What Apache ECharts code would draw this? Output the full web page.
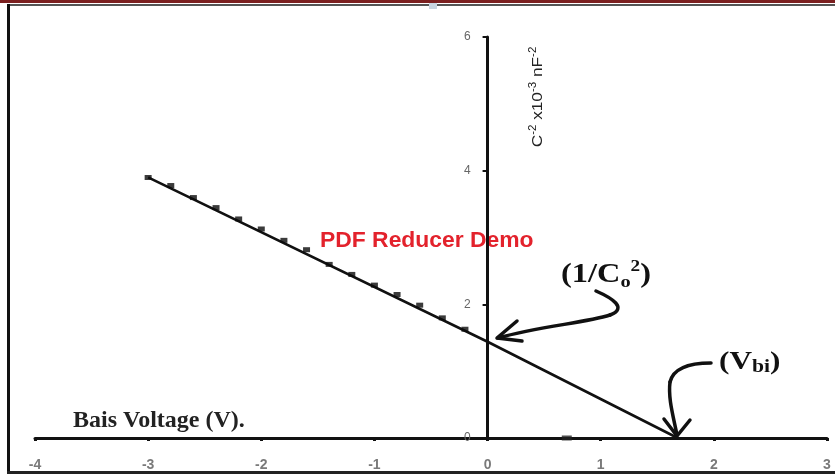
<!DOCTYPE html>
<html>
<head>
<meta charset="utf-8">
<script src="https://cdn.jsdelivr.net/npm/echarts@6/dist/echarts.min.js"></script>
<style>
  html, body { margin: 0; padding: 0; background: #fff; }
  #chart { width: 835px; height: 474px; }
</style>
</head>
<body>
<div id="chart"></div>
<script>
// measured points (bias voltage V, C^-2 x10^-3 nF^-2)
var biasV = [-3.0, -2.8, -2.6, -2.4, -2.2, -2.0, -1.8, -1.6, -1.4, -1.2, -1.0, -0.8, -0.6, -0.4, -0.2];
var invC2 = [3.89, 3.77, 3.59, 3.44, 3.27, 3.12, 2.95, 2.81, 2.59, 2.44, 2.28, 2.14, 1.98, 1.79, 1.62];
// extrapolated fit line
var fitV = [-3.0, 0, 1.68];
var fitC = [3.9, 1.44, 0];
// stray mark on the x axis
var strayV = [0.7];
var strayC = [0];
var xTicks = [-4, -3, -2, -1, 0, 1, 2, 3];
var yTicks = [0, 2, 4, 6];

var chart = echarts.init(document.getElementById('chart'));

function pairs(xs, ys) {
    return xs.map(function (x, i) { return [x, ys[i]]; });
}

var gridLeft = 35, gridRight = 8;
var plotW = 835 - gridLeft - gridRight;
// shift the y axis (line, ticks and labels) onto x = 0
var yOffset = -plotW * (0 - xTicks[0]) / (xTicks[xTicks.length - 1] - xTicks[0]);

var ink = { stroke: '#111', lineWidth: 3.5, fill: null, lineCap: 'round', lineJoin: 'round' };

var option = {
    animation: false,
    grid: { left: gridLeft, right: gridRight, top: 37, bottom: 36 },
    xAxis: {
        type: 'value',
        min: xTicks[0],
        max: xTicks[xTicks.length - 1],
        interval: 1,
        splitLine: { show: false },
        axisLine: { onZero: false, lineStyle: { color: '#111', width: 3 } },
        axisTick: { show: true, length: 3, lineStyle: { color: '#111', width: 3 } },
        axisLabel: { color: '#7a7a7a', fontSize: 14, fontWeight: 'bold', margin: 20, fontFamily: 'Arial' }
    },
    yAxis: {
        type: 'value',
        position: 'left',
        offset: yOffset,
        min: yTicks[0],
        max: yTicks[yTicks.length - 1],
        interval: 2,
        splitLine: { show: false },
        axisLine: { onZero: false, lineStyle: { color: '#111', width: 3 } },
        axisTick: { show: true, length: 5, lineStyle: { color: '#111', width: 2 } },
        axisLabel: { color: '#666', fontSize: 12, margin: 17, fontFamily: 'Arial' }
    },
    series: [
        {
            type: 'line',
            data: pairs(fitV, fitC),
            symbol: 'none',
            lineStyle: { color: '#111', width: 2.6 },
            z: 3
        },
        {
            type: 'scatter',
            data: pairs(biasV, invC2),
            symbol: 'rect',
            symbolSize: [7, 5],
            symbolOffset: [0, -0.5],
            itemStyle: { color: '#0a0a0a' },
            z: 4
        },
        {
            type: 'scatter',
            data: pairs(strayV, strayC),
            symbol: 'rect',
            symbolSize: [10, 5],
            itemStyle: { color: '#222' },
            z: 4
        }
    ],
    graphic: [
        // page frame
        { type: 'rect', shape: { x: 0, y: 0, width: 835, height: 3 }, style: { fill: '#7b1f1f' } },
        { type: 'rect', shape: { x: 8, y: 4, width: 827, height: 2 }, style: { fill: '#555' } },
        { type: 'rect', shape: { x: 7, y: 4, width: 3, height: 470 }, style: { fill: '#111' } },
        { type: 'rect', shape: { x: 7, y: 471, width: 828, height: 3 }, style: { fill: '#222' } },
        { type: 'rect', shape: { x: 429, y: 3, width: 8, height: 6 }, style: { fill: '#c8d4e0' } },
        // y axis name
        {
            type: 'text', x: 538, y: 97, rotation: Math.PI / 2, scaleX: 1.15,
            style: {
                text: 'C{s|-2} x10{s|-3} nF{s|-2}',
                align: 'center', verticalAlign: 'middle',
                fill: '#222', font: '15px Arial',
                rich: { s: { fontSize: 10, verticalAlign: 'top', fill: '#222', lineHeight: 20 } }
            }
        },
        {
            type: 'text', x: 73, y: 421,
            style: { text: 'Bais Voltage (V).', verticalAlign: 'middle', fill: '#222', font: 'bold 24px "Liberation Serif"' }
        },
        {
            type: 'text', x: 320, y: 241, scaleX: 1.04,
            style: { text: 'PDF Reducer Demo', verticalAlign: 'middle', fill: '#e3222c', font: 'bold 22px Arial' }
        },
        {
            type: 'text', x: 561, y: 275, scaleX: 1.2,
            style: {
                text: '(1/C{sub|o}{sup|2})', verticalAlign: 'middle', fill: '#111',
                font: 'bold 27px "Liberation Serif"',
                rich: {
                    sub: { font: 'bold 17px "Liberation Serif"', verticalAlign: 'bottom', fill: '#111', lineHeight: 30 },
                    sup: { font: 'bold 16px "Liberation Serif"', verticalAlign: 'top', fill: '#111', lineHeight: 32 }
                }
            }
        },
        {
            type: 'text', x: 719, y: 362, scaleX: 1.2,
            style: {
                text: '(V{sub|bi})', verticalAlign: 'middle', fill: '#111',
                font: 'bold 26px "Liberation Serif"',
                rich: { sub: { font: 'bold 18px "Liberation Serif"', verticalAlign: 'bottom', fill: '#111', lineHeight: 28 } }
            }
        },
        // arrow to intercept 1/Co^2
        {
            type: 'bezierCurve',
            shape: { x1: 596, y1: 291, cpx1: 612, cpy1: 298, cpx2: 628, cpy2: 308, x2: 610, y2: 315 },
            style: ink
        },
        {
            type: 'bezierCurve',
            shape: { x1: 610, y1: 315, cpx1: 585, cpy1: 323, cpx2: 540, cpy2: 326, x2: 498, y2: 338 },
            style: ink
        },
        {
            type: 'polyline',
            shape: { points: [[517, 321], [497, 338], [522, 341]] },
            style: ink
        },
        // arrow to Vbi
        {
            type: 'bezierCurve',
            shape: { x1: 711, y1: 363, cpx1: 695, cpy1: 363, cpx2: 674, cpy2: 366, x2: 670, y2: 382 },
            style: ink
        },
        {
            type: 'bezierCurve',
            shape: { x1: 670, y1: 382, cpx1: 668, cpy1: 398, cpx2: 673, cpy2: 415, x2: 677, y2: 435 },
            style: ink
        },
        {
            type: 'polyline',
            shape: { points: [[664, 419], [677, 436], [690, 420]] },
            style: ink
        }
    ]
};

chart.setOption(option);
</script>
</body>
</html>
